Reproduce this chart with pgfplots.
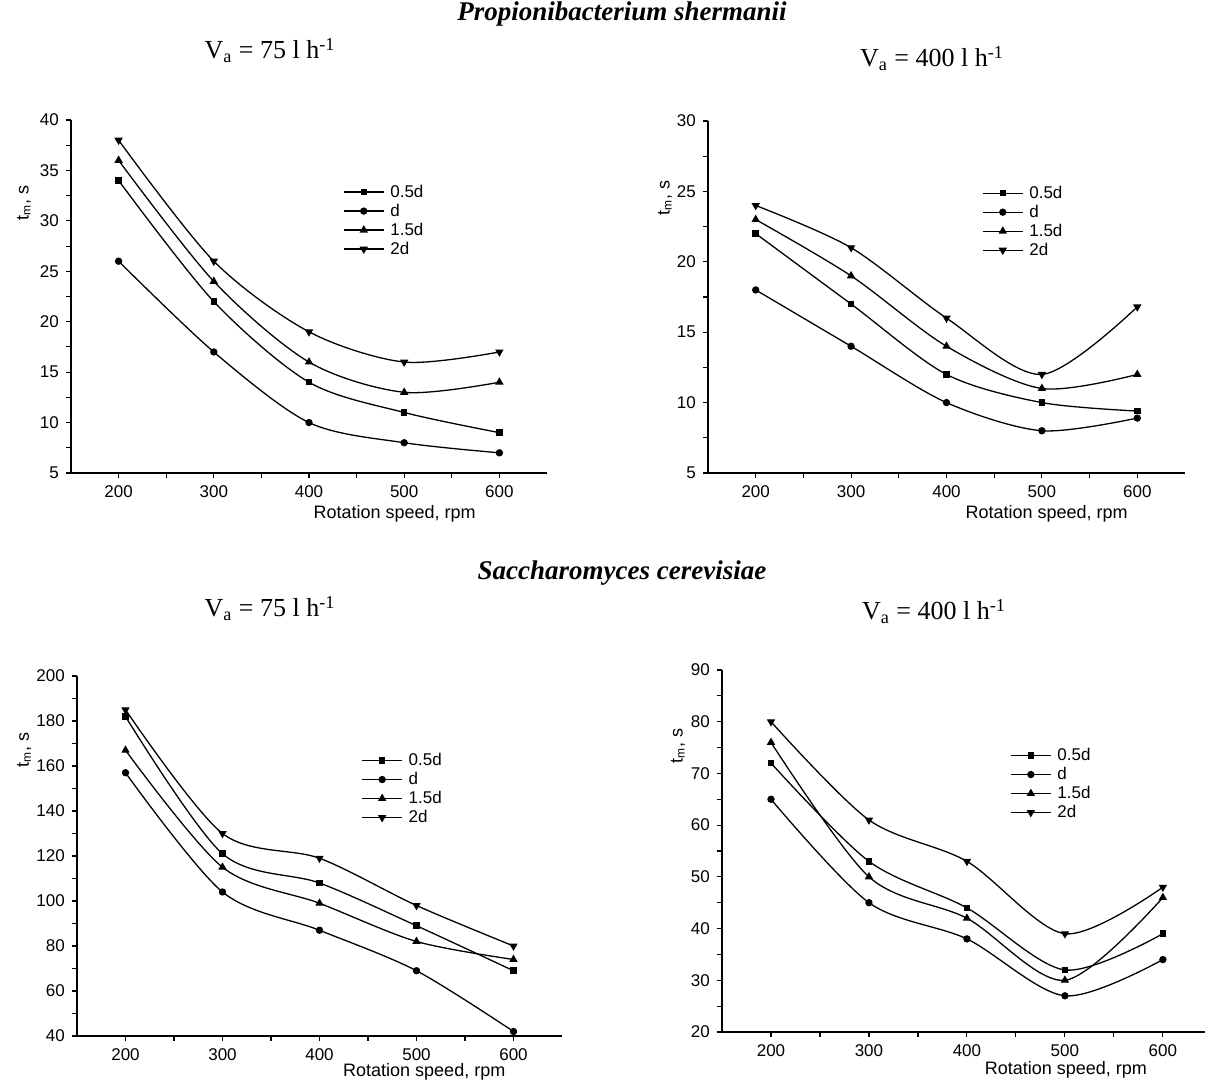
\documentclass[border=0pt]{standalone}
\usepackage{fontspec}
\setmainfont{Liberation Serif}
\newfontfamily\arial{Liberation Sans}
\usepackage{pgfplots}
\pgfplotsset{compat=1.18}

\pgfplotsset{
  panel/.style={
    scale only axis,
    anchor=south west,
    axis x line=bottom, axis y line=left,
    axis line style={-, line width=0.65pt},
    tick align=outside,
    xmin=150, xmax=650,
    xtick={200,300,400,500,600},
    minor x tick num=1, minor y tick num=1,
    major tick length=2.6pt, minor tick length=2.4pt,
    every tick/.style={black, line width=0.55pt},
    tick label style={font=\arial\fontsize{8.5}{9}\selectfont},
    /pgf/number format/assume math mode=true,
    xlabel={Rotation speed, rpm},
    ylabel={t\textsubscript{m}, s},
    label style={font=\arial\fontsize{9}{10}\selectfont},
    xlabel style={yshift=3pt},
    legend style={draw=none, fill=none, anchor=west, inner sep=0pt,
      font=\arial\fontsize{8.5}{9}\selectfont,
      nodes={inner sep=0pt, text height=6.2pt, text depth=1pt},
      row sep=2.3pt, column sep=3pt},
    legend cell align=left,
    legend image code/.code={\draw[mark repeat=2,mark phase=2]
      plot coordinates {(0cm,0cm) (0.35cm,0cm) (0.7cm,0cm)};},
    every axis plot/.append style={black, line width=0.65pt, smooth, mark size=1.5pt},
  },
  sq/.style={mark=square*, mark size=1.3pt},
  ci/.style={mark=*},
  tu/.style={mark=triangle*, mark size=1.8pt},
  td/.style={mark=triangle*, mark size=1.8pt, mark options={rotate=180}},
}

\newcommand{\Va}[1]{V\textsubscript{a} = #1 l h\textsuperscript{-1}}

\begin{document}
\begin{tikzpicture}
\path[use as bounding box] (0,0) rectangle (602.5pt,540.5pt);

% titles
\node[anchor=base, font=\fontsize{13.5}{15}\selectfont\bfseries\itshape] at (311pt,530pt) {Propionibacterium shermanii};
\node[anchor=base, font=\fontsize{13}{15}\selectfont] at (135pt,511pt) {\Va{75}};
\node[anchor=base, font=\fontsize{13}{15}\selectfont] at (466pt,507pt) {\Va{400}};
\node[anchor=base, font=\fontsize{13.5}{15}\selectfont\bfseries\itshape] at (311pt,250.5pt) {Saccharomyces cerevisiae};
\node[anchor=base, font=\fontsize{13}{15}\selectfont] at (135pt,232pt) {\Va{75}};
\node[anchor=base, font=\fontsize{13}{15}\selectfont] at (467pt,230.5pt) {\Va{400}};

% top left
\begin{axis}[panel, at={(35.5pt,304pt)}, width=238pt, height=176.5pt,
  ymin=5, ymax=40, ytick={5,10,...,40},
  xlabel style={at={(ticklabel cs:0.68)}},
  ylabel style={at={(axis description cs:-0.099,0.765)}, anchor=center},
  legend style={at={(0.571,0.715)}}]
\addplot[sq] coordinates {(200,34) (300,22) (400,14) (500,11) (600,9)};
\addlegendentry{0.5d}
\addplot[ci] coordinates {(200,26) (300,17) (400,10) (500,8) (600,7)};
\addlegendentry{d}
\addplot[tu] coordinates {(200,36) (300,24) (400,16) (500,13) (600,14)};
\addlegendentry{1.5d}
\addplot[td] coordinates {(200,38) (300,26) (400,19) (500,16) (600,17)};
\addlegendentry{2d}
\end{axis}

% top right
\begin{axis}[panel, at={(354pt,304pt)}, width=238.5pt, height=176pt,
  ymin=5, ymax=30, ytick={5,10,...,30},
  xlabel style={at={(ticklabel cs:0.71)}},
  ylabel style={at={(axis description cs:-0.09,0.78)}, anchor=center},
  legend style={at={(0.574,0.714)}}]
\addplot[sq] coordinates {(200,22) (300,17) (400,12) (500,10) (600,9.4)};
\addlegendentry{0.5d}
\addplot[ci] coordinates {(200,18) (300,14) (400,10) (500,8) (600,8.9)};
\addlegendentry{d}
\addplot[tu] coordinates {(200,23) (300,19) (400,14) (500,11) (600,12)};
\addlegendentry{1.5d}
\addplot[td] coordinates {(200,24) (300,21) (400,16) (500,12) (600,16.8)};
\addlegendentry{2d}
\end{axis}

% bottom left
\begin{axis}[panel, at={(38.5pt,22.5pt)}, width=242.5pt, height=180pt,
  ymin=40, ymax=200, ytick={40,60,...,200},
  xlabel style={at={(ticklabel cs:0.716)}, yshift=2.5pt},
  ylabel style={at={(axis description cs:-0.109,0.794)}, anchor=center},
  legend style={at={(0.586,0.686)}}]
\addplot[sq] coordinates {(200,182) (300,121) (400,108) (500,89) (600,69)};
\addlegendentry{0.5d}
\addplot[ci] coordinates {(200,157) (300,104) (400,87) (500,69) (600,42)};
\addlegendentry{d}
\addplot[tu] coordinates {(200,167) (300,115) (400,99) (500,82) (600,74)};
\addlegendentry{1.5d}
\addplot[td] coordinates {(200,185) (300,130) (400,119) (500,98) (600,80)};
\addlegendentry{2d}
\end{axis}

% bottom right
\begin{axis}[panel, at={(361pt,24.5pt)}, width=241.5pt, height=181pt,
  xmax=643,
  ymin=20, ymax=90, ytick={20,30,...,90},
  xlabel style={at={(ticklabel cs:0.712)}, yshift=1.5pt},
  ylabel style={at={(axis description cs:-0.091,0.79)}, anchor=center},
  legend style={at={(0.596,0.685)}}]
\addplot[sq] coordinates {(200,72) (300,53) (400,44) (500,32) (600,39)};
\addlegendentry{0.5d}
\addplot[ci] coordinates {(200,65) (300,45) (400,38) (500,27) (600,34)};
\addlegendentry{d}
\addplot[tu] coordinates {(200,76) (300,50) (400,42) (500,30) (600,46)};
\addlegendentry{1.5d}
\addplot[td] coordinates {(200,80) (300,61) (400,53) (500,39) (600,48)};
\addlegendentry{2d}
\end{axis}
\end{tikzpicture}
\end{document}
